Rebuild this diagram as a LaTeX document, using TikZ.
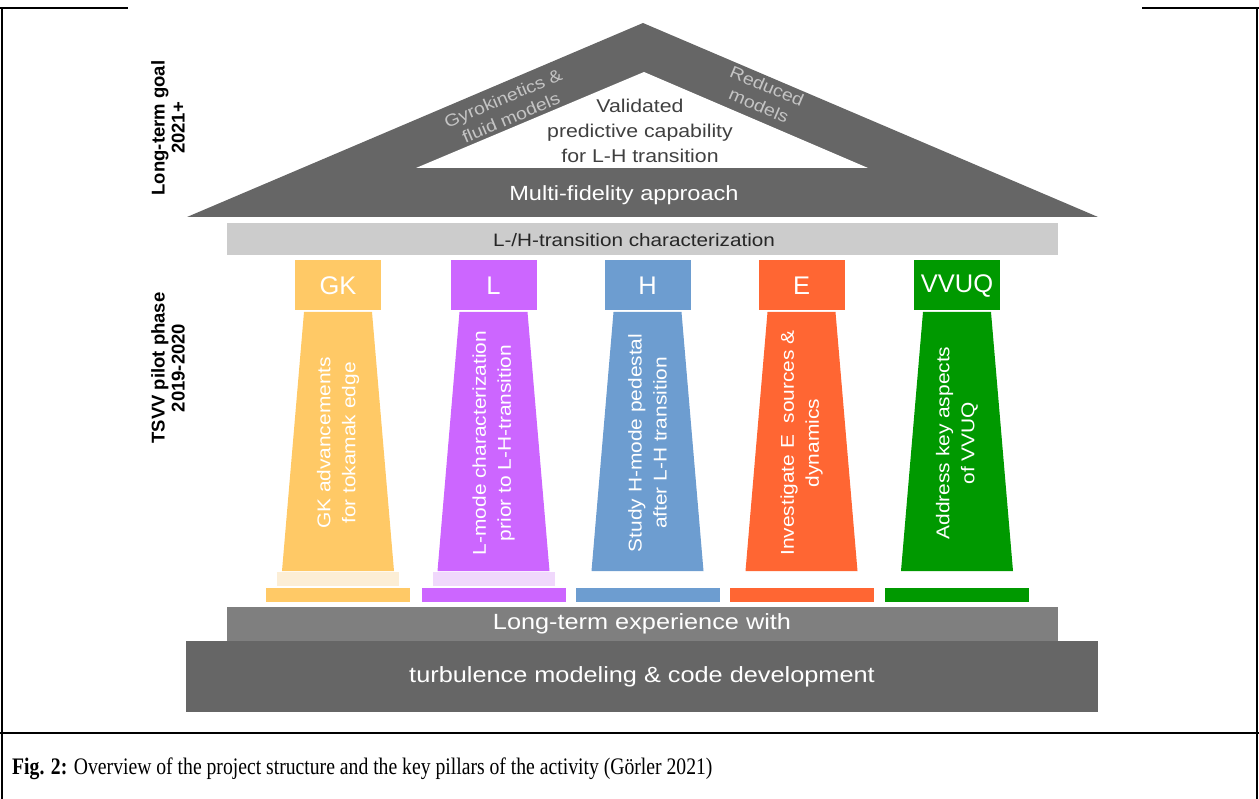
\documentclass[tikz,border=0pt]{standalone}
\usepackage{fontspec}
\setmainfont{Liberation Sans}
\newfontfamily\nar[FakeStretch=1.15]{Liberation Sans}
\newfontfamily\wid[FakeStretch=1.13]{Liberation Sans}
\newfontfamily\capser[FakeStretch=0.83]{Liberation Serif}
\definecolor{roofgray}{HTML}{666666}
\definecolor{midgray}{HTML}{7F7F7F}
\definecolor{beamgray}{HTML}{CCCCCC}
\definecolor{bandtext}{HTML}{C4C4C4}
\definecolor{darktext}{HTML}{404040}
\definecolor{cGK}{HTML}{FFC966}
\definecolor{pGK}{HTML}{FCEED6}
\definecolor{cL}{HTML}{CC66FF}
\definecolor{pL}{HTML}{F0D8FC}
\definecolor{cH}{HTML}{6D9DD0}
\definecolor{cE}{HTML}{FF6633}
\definecolor{cV}{HTML}{009900}
\tikzset{
  framel/.style={line width=1.2pt, black},
  seplinel/.style={line width=2.6pt, black},
  lab/.style={inner sep=0pt, align=center},
  whitet/.style={lab, text=white},
  pillartext/.style={whitet, rotate=90, font=\wid\fontsize{18.5}{25}\selectfont},
  captext/.style={whitet, font=\fontsize{25.5}{28}\selectfont},
  sidelab/.style={lab, rotate=90, font=\bfseries\fontsize{18.5}{20}\selectfont},
}
\begin{document}
\begin{tikzpicture}[x=1pt,y=-1pt]
\useasboundingbox (0,0) rectangle (1259,799);
% frame
\draw[framel] (0,8) -- (128,8);
\draw[framel] (1142,8) -- (1259,8);
\draw[framel] (2,8) -- (2,799);
\draw[framel] (1257,8) -- (1257,799);
\draw[seplinel] (0,733) -- (1259,733);
% roof
\fill[roofgray] (187,217) -- (643,23) -- (1098,217) -- cycle;
\fill[white] (416,168) -- (644,72) -- (868,168) -- cycle;
\node[lab, text=bandtext, rotate=23, font=\nar\fontsize{17}{21}\selectfont] (gyro) at (507,108) {Gyrokinetics \&\\fluid models};
\node[lab, text=bandtext, rotate=-23, font=\nar\fontsize{17}{21}\selectfont] (red) at (763,96) {Reduced\\models};
\node[lab, text=darktext, font=\nar\fontsize{18.5}{25}\selectfont] (valid) at (640,131) {Validated\\predictive capability\\for L-H transition};
\node[whitet, font=\nar\fontsize{20.5}{22}\selectfont] (multi) at (624,195) {Multi-fidelity approach};
% beam
\fill[beamgray] (227,223) rectangle (1058,255);
\node[lab, text=black!85, font=\nar\fontsize{18}{20}\selectfont] (beam) at (634,240) {L-/H-transition characterization};
% pillars
\foreach \cx/\col/\pad/\nm/\txt/\id in {
  338/cGK/pGK/GK/{GK advancements\\for tokamak edge}/gk,
  493.5/cL/pL/L/{L-mode characterization\\prior to L-H-transition}/l,
  647.5/cH/white/H/{Study H-mode pedestal\\after L-H transition}/h,
  801.5/cE/white/E/{Investigate E\ \ sources \&\\dynamics}/e,
  957/cV/white/VVUQ/{Address key aspects\\of VVUQ}/v}{
  \fill[\col] (\cx-43,260) rectangle (\cx+43,310);
  \fill[\col] (\cx-34,312) -- (\cx+34,312) -- (\cx+56,571) -- (\cx-56,571) -- cycle;
  \fill[\pad] (\cx-61,572) rectangle (\cx+61,586);
  \fill[\col] (\cx-72,588) rectangle (\cx+72,602);
  \node[captext] (cap\id) at (\cx,286) {\nm};
  \node[pillartext] (txt\id) at (\cx,443) {\txt};
}
% base
\fill[midgray] (227,607) rectangle (1058,641);
\fill[roofgray] (186,641) rectangle (1098,712);
\node[whitet, font=\nar\fontsize{22}{24}\selectfont] (exp) at (642,624) {Long-term experience with};
\node[whitet, font=\nar\fontsize{22}{24}\selectfont] (turb) at (642,677) {turbulence modeling \& code development};
% side labels
\node[sidelab] (goal) at (168,128) {Long-term goal\\2021+};
\node[sidelab] (tsvv) at (168,368) {TSVV pilot phase\\2019-2020};
% caption
\node[lab, anchor=base west, font=\capser\fontsize{23.7}{26}\selectfont] (capt) at (12,774) {\textbf{Fig. 2:} Overview of the project structure and the key pillars of the activity (Görler 2021)};
\end{tikzpicture}
\end{document}
